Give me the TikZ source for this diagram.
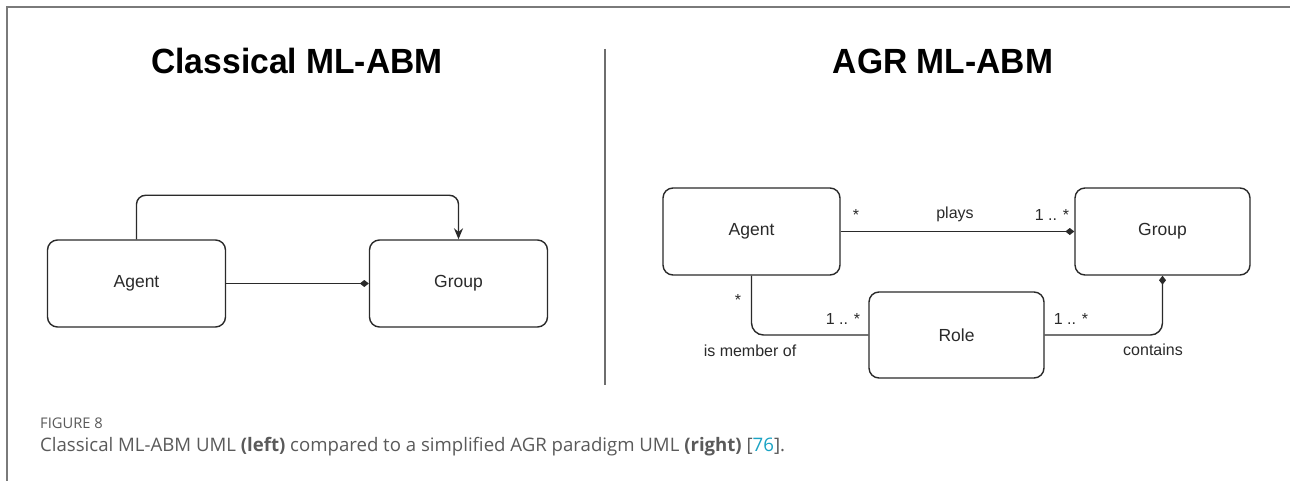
\documentclass[tikz,border=0pt]{standalone}
\usepackage{fontspec}
\setmainfont{Liberation Sans}
\newfontfamily\capfont{Open Sans}
\usetikzlibrary{arrows.meta}
\definecolor{framegray}{HTML}{7A7A7A}
\definecolor{inkgray}{HTML}{2A2A2A}
\definecolor{captext}{HTML}{5A5A5A}
\definecolor{reflink}{HTML}{1AA3C4}
\tikzset{
  umlbox/.style={draw=inkgray, line width=1.4pt, rounded corners=10pt,
    minimum width=178pt, minimum height=87pt, font=\fontsize{17.5}{20}\selectfont, text=inkgray},
  conn/.style={draw=inkgray, line width=1.4pt},
  comp/.style={conn, -{Diamond[length=9pt,width=7pt]}},
  arr/.style={conn, -{Stealth[length=11pt,width=9pt]}},
  lbl/.style={font=\fontsize{16}{18}\selectfont, text=inkgray, inner sep=0pt},
  heading/.style={font=\bfseries\fontsize{35}{38}\selectfont, inner sep=0pt},
  rule/.style={draw=framegray, line width=2pt}
}
\begin{document}
\begin{tikzpicture}[x=1pt, y=-1pt]
  \useasboundingbox (0,0) rectangle (1290,481);
  \fill[white] (0,0) rectangle (1290,481);

  % page frame and central divider
  \draw[rule] (7,481) -- (7,7) -- (1290,7);
  \coordinate (divtop) at (605,49);
  \coordinate (divbot) at (605,385);
  \draw[rule, draw=framegray!90!black] (divtop) -- (divbot);

  % headings
  \node[heading, xscale=0.96] (tleft) at (297,61) {Classical ML-ABM};
  \node[heading, xscale=0.96] (tright) at (943,61) {AGR ML-ABM};

  % classical model
  \node[umlbox] (agentL) at (136.5,283.5) {Agent};
  \node[umlbox] (groupL) at (458.5,283.5) {Group};
  \draw[comp] (agentL.east) -- (groupL.west);
  \draw[arr, rounded corners=9pt] (agentL.north) -- ++(0,-44) -| (groupL.north);

  % AGR model
  \node[umlbox, minimum width=177pt] (agentR) at (751.5,231.5) {Agent};
  \node[umlbox, minimum width=175pt] (groupR) at (1162.5,231.5) {Group};
  \node[umlbox, minimum width=175pt, minimum height=86pt] (roleR) at (956.5,335) {Role};

  \draw[comp] (agentR.east) -- (groupR.west);
  \draw[conn, rounded corners=12pt] (agentR.south) |- (roleR.west);
  \draw[comp, rounded corners=12pt] (roleR.east) -| (groupR.south);

  \node[lbl] (m1) at (856,215) {*};
  \node[lbl] (plays) at (955,214) {plays};
  \node[lbl] (m2) at (1052,215) {1 .. *};
  \node[lbl] (m3) at (738,300) {*};
  \node[lbl] (m4) at (843,319) {1 .. *};
  \node[lbl] (member) at (750,351) {is member of};
  \node[lbl] (m5) at (1071,319) {1 .. *};
  \node[lbl] (contains) at (1153,350) {contains};

  % caption
  \node[anchor=base west, inner sep=0pt, font=\capfont\fontsize{14.7}{16}\selectfont, text=captext] (figno) at (40,428) {FIGURE 8};
  \node[anchor=base west, inner sep=0pt, font=\capfont\fontsize{18.6}{21}\selectfont, text=captext] (cap) at (40,451)
    {Classical ML-ABM UML \textbf{(left)} compared to a simplified AGR paradigm UML \textbf{(right)} [\textcolor{reflink}{76}].};
\end{tikzpicture}
\end{document}
